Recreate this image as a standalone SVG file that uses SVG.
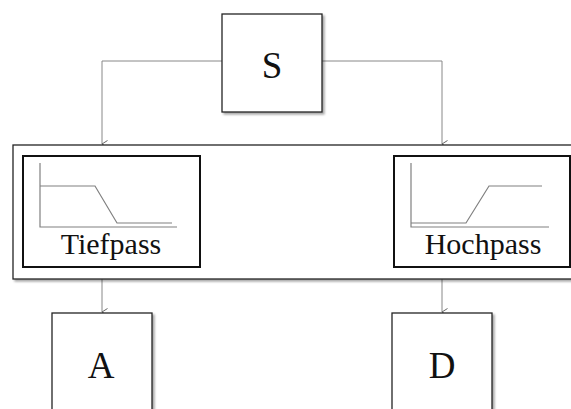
<svg xmlns="http://www.w3.org/2000/svg" width="571" height="409" viewBox="0 0 571 409">
  <defs>
    <marker id="arr" markerWidth="10" markerHeight="10" refX="5" refY="6" orient="auto" markerUnits="userSpaceOnUse" viewBox="0 0 10 10">
      <path d="M1.5,0.5 L5,6 L8.5,0.5" fill="none" stroke="#666" stroke-width="1"/>
    </marker>
    <filter id="sh" x="-10%" y="-10%" width="130%" height="130%">
      <feGaussianBlur in="SourceAlpha" stdDeviation="1.2"/>
      <feOffset dx="1.5" dy="1.5" result="b"/>
      <feComponentTransfer><feFuncA type="linear" slope="0.35"/></feComponentTransfer>
      <feMerge><feMergeNode/><feMergeNode in="SourceGraphic"/></feMerge>
    </filter>
  </defs>
  <style>
    .box { fill: #fff; stroke: #222; stroke-width: 1.3; }
    .filt { fill: #fff; stroke: #111; stroke-width: 2; }
    .conn { fill: none; stroke: #888; stroke-width: 1; }
    .plot { fill: none; stroke: #808080; stroke-width: 1.2; }
    .big { font-family: "Liberation Serif", "Times New Roman", serif; font-size: 37px; fill: #111; text-anchor: middle; }
    .lbl { font-family: "Liberation Serif", "Times New Roman", serif; font-size: 30px; fill: #111; text-anchor: middle; }
  </style>
  <rect width="571" height="409" fill="#fff"/>

  <g id="connectors">
    <path class="conn" d="M222,61 H102 V144" marker-end="url(#arr)"/>
    <path class="conn" d="M322,61 H442 V144" marker-end="url(#arr)"/>
    <path class="conn" d="M102,279 V312" marker-end="url(#arr)"/>
    <path class="conn" d="M442,279 V312" marker-end="url(#arr)"/>
  </g>

  <g id="S">
    <rect class="box" x="222" y="14" width="100" height="98" filter="url(#sh)"/>
    <text class="big" x="272" y="78">S</text>
  </g>

  <g id="filterbank">
    <rect class="box" x="13" y="145" width="570" height="134" filter="url(#sh)"/>
  </g>

  <g id="tiefpass">
    <rect class="filt" x="23" y="156" width="177" height="111"/>
    <path class="plot" d="M40,163 V227 H177"/>
    <path class="plot" d="M40,186 H95 L117,223 H172"/>
    <text class="lbl" x="111" y="254">Tiefpass</text>
  </g>

  <g id="hochpass">
    <rect class="filt" x="394" y="156" width="176" height="111"/>
    <path class="plot" d="M411,163 V227 H549"/>
    <path class="plot" d="M411,223 H466 L489,186 H542"/>
    <text class="lbl" x="483" y="254">Hochpass</text>
  </g>

  <g id="A">
    <rect class="box" x="52" y="313" width="100" height="110" filter="url(#sh)"/>
    <text class="big" x="101" y="378">A</text>
  </g>

  <g id="D">
    <rect class="box" x="392" y="313" width="100" height="110" filter="url(#sh)"/>
    <text class="big" x="442" y="378">D</text>
  </g>
</svg>
